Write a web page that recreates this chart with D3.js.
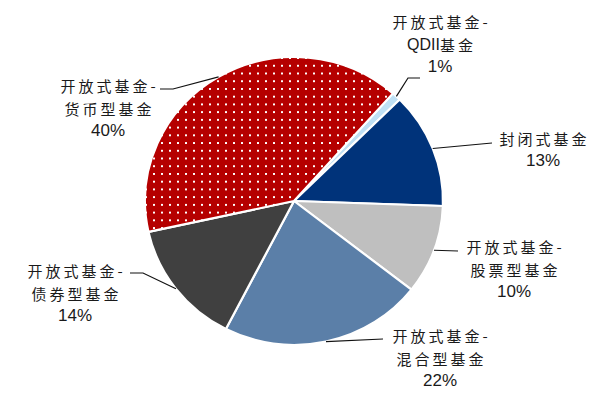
<!DOCTYPE html>
<html>
<head>
<meta charset="utf-8">
<script src="https://cdn.jsdelivr.net/npm/d3@7"></script>
<style>
  body { margin: 0; background: #fff; }
  .cn { font-family: "Noto Sans CJK SC", sans-serif; font-size: 15px; letter-spacing: 3px; fill: #1a1a1a; }
  .cn .latin { font-family: "Liberation Sans", Arial, sans-serif; font-size: 16px; letter-spacing: 0; }
  .pct { font-family: "Liberation Sans", Arial, sans-serif; font-size: 17px; fill: #1a1a1a; }
</style>
</head>
<body>
<div id="chart"></div>
<script>
// data
const categories = ['开放式基金-QDII基金', '封闭式基金', '开放式基金-股票型基金',
  '开放式基金-混合型基金', '开放式基金-债券型基金', '开放式基金-货币型基金'];
const shares = [1, 13, 10, 22, 14, 40];
const sliceColors = ['#bfe0f4', '#00337a', '#bfbfbf', '#5b7fa8', '#404040', 'url(#dots)'];

// layout
const width = 600, height = 400;
const cx = 294, cy = 201;
const radius = 149, ky = 0.966;   // picture is a bit squashed vertically
const startDeg = 41.6;

// label centres (first line) and leader bends
const labelAt = [[440, 21], [543, 138], [514, 246], [440, 335], [75, 270], [108, 85]];
const leaderTo = [
  [[408, 78], [420, 78]],
  [[492, 143]],
  [[458, 251]],
  [[383, 339]],
  [[143, 273], [130, 273]],
  [[173, 89], [160, 89]]
];

let svg = d3.select('#chart').append('svg')
  .attr('width', width)
  .attr('height', height);

// red with white dot grid
let pat = svg.append('defs').append('pattern')
  .attr('id', 'dots')
  .attr('patternUnits', 'userSpaceOnUse')
  .attr('width', 8)
  .attr('height', 8);
pat.append('rect').attr('width', 8).attr('height', 8).attr('fill', '#b50000');
pat.append('rect').attr('x', 3).attr('y', 3).attr('width', 2).attr('height', 2).attr('fill', '#fff');

let rows = categories.map((c, i) => ({ name: c, value: shares[i], color: sliceColors[i] }));

let a0 = startDeg * Math.PI / 180;
let pie = d3.pie().sort(null).value(d => d.value)
  .startAngle(a0).endAngle(a0 + 2 * Math.PI);
let arcs = pie(rows);

let arc = d3.arc().innerRadius(0).outerRadius(radius);
let edge = d3.arc().innerRadius(radius).outerRadius(radius);

let g = svg.append('g')
  .attr('transform', `translate(${cx},${cy}) scale(1,${ky})`);

g.selectAll('path.slice')
  .data(arcs)
  .enter()
  .append('path')
  .attr('class', 'slice')
  .attr('d', arc)
  .attr('fill', d => d.data.color)
  .attr('stroke', '#fff')
  .attr('stroke-width', 2.2)
  .attr('stroke-linejoin', 'round');

// leader lines from the middle of each slice's rim
let line = d3.line();
svg.selectAll('path.leader')
  .data(arcs)
  .enter()
  .append('path')
  .attr('class', 'leader')
  .attr('d', (d, i) => {
    let p = edge.centroid(d);
    let start = [cx + p[0], cy + p[1] * ky];
    return line([start].concat(leaderTo[i]));
  })
  .attr('fill', 'none')
  .attr('stroke', '#111')
  .attr('stroke-width', 1.2);

// labels
let lab = svg.selectAll('g.label')
  .data(arcs)
  .enter()
  .append('g')
  .attr('class', 'label')
  .attr('transform', (d, i) => `translate(${labelAt[i][0]},${labelAt[i][1]})`);

lab.each(function(d) {
  let el = d3.select(this);
  let parts = d.data.name.split('-');
  let lines = parts.length > 1 ? [parts[0] + '-', parts[1]] : [parts[0]];
  lines.forEach((t, k) => {
    let txt = el.append('text')
      .attr('class', 'cn')
      .attr('x', 1.5)
      .attr('y', k * 23)
      .attr('text-anchor', 'middle')
      .attr('dominant-baseline', 'central');
    // latin runs (QDII) are not letter-spaced in the original
    t.split(/([A-Za-z]+)/).filter(s => s).forEach(s => {
      txt.append('tspan')
        .attr('class', /[A-Za-z]/.test(s) ? 'latin' : null)
        .text(s);
    });
  });
  el.append('text')
    .attr('class', 'pct')
    .attr('y', lines.length * 22.5)
    .attr('text-anchor', 'middle')
    .attr('dominant-baseline', 'central')
    .text(d3.format('.0%')(d.data.value / d3.sum(shares)));
});
</script>
</body>
</html>
